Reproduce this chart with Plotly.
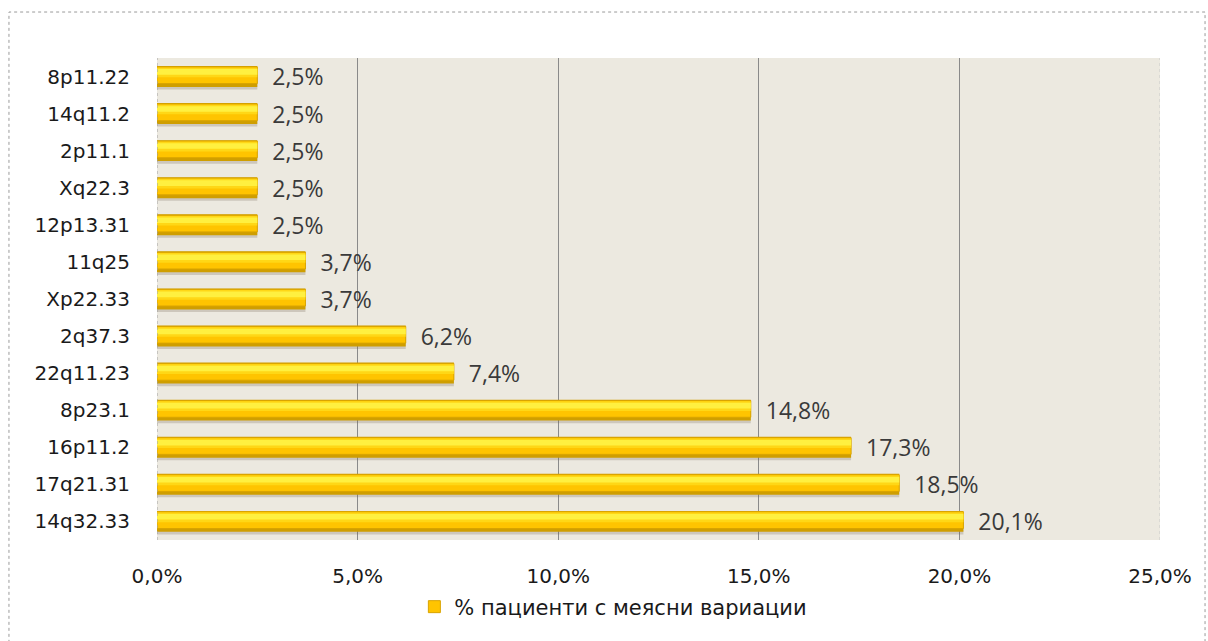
import plotly.graph_objects as go

# Regions listed from the bottom of the chart to the top
regions = ["14q32.33", "17q21.31", "16p11.2", "8p23.1", "22q11.23", "2q37.3",
           "Xp22.33", "11q25", "12p13.31", "Xq22.3", "2p11.1", "14q11.2", "8p11.22"]
percent = [20.1, 18.5, 17.3, 14.8, 7.4, 6.2, 3.7, 3.7, 2.5, 2.5, 2.5, 2.5, 2.5]
series_name = "% пациенти с меясни вариации"
x_ticks = [0, 5, 10, 15, 20, 25]
x_tick_text = [f"{v:.1f}%".replace(".", ",") for v in x_ticks]

label_font = dict(family="Open Sans, Liberation Sans, sans-serif", size=23, color="#3a3a3a")
axis_font = dict(family="DejaVu Sans, sans-serif", size=20, color="#1a1a1a")

fig = go.Figure()

# soft drop shadow under each bar
fig.add_trace(go.Bar(
    x=percent, y=regions, orientation="h", offset=-0.35, width=0.58,
    marker=dict(color="rgba(110,100,80,0.25)", line=dict(width=0)),
    showlegend=False, hoverinfo="skip"))

# dark gold base of the bar, carries the value labels
fig.add_trace(go.Bar(
    x=percent, y=regions, orientation="h", offset=-0.28, width=0.565,
    marker=dict(color="#CF9E00", line=dict(width=0)),
    texttemplate="\u00a0\u00a0%{x:.1f}%", textposition="outside",
    constraintext="none", textfont=label_font, cliponaxis=False,
    showlegend=False))

# main gold body
fig.add_trace(go.Bar(
    x=percent, y=regions, orientation="h", offset=-0.19, width=0.45,
    marker=dict(color="#FFC400", line=dict(width=1, color="#D9A400")),
    name=series_name, showlegend=True))

# lighter gold transition above the body
fig.add_trace(go.Bar(
    x=percent, y=regions, orientation="h", offset=-0.02, width=0.26,
    marker=dict(color="#FFD716", line=dict(width=0)),
    showlegend=False, hoverinfo="skip"))

# bright highlight band near the top edge
fig.add_trace(go.Bar(
    x=percent, y=regions, orientation="h", offset=0.05, width=0.15,
    marker=dict(color="#FFF040", line=dict(width=0)),
    showlegend=False, hoverinfo="skip"))

# frame around the whole chart and plot area edges
fig.add_shape(type="rect", xref="paper", yref="paper",
              x0=-0.1476, x1=1.0449, y0=-0.22, y1=1.0954,
              line=dict(color="#9a9a9a", width=1, dash="dot"), layer="below")
fig.add_shape(type="line", xref="x", yref="paper", x0=0, x1=0, y0=0, y1=1,
              line=dict(color="#a0a0a0", width=1, dash="dot"))
fig.add_shape(type="line", xref="x", yref="paper", x0=25, x1=25, y0=0, y1=1,
              line=dict(color="#c8c8c8", width=1, dash="dot"))

fig.update_layout(
    width=1208, height=641,
    margin=dict(l=157, r=48, t=58, b=101),
    paper_bgcolor="white",
    plot_bgcolor="#ECE9E0",
    barmode="overlay",
    separators=",.",
    showlegend=True,
    legend=dict(orientation="h", x=0.455, xanchor="center", y=-0.139, yanchor="middle",
                font=dict(family="DejaVu Sans, sans-serif", size=21, color="#1a1a1a"),
                bgcolor="rgba(0,0,0,0)"),
    xaxis=dict(range=[0, 25], tickvals=x_ticks, ticktext=x_tick_text,
               showgrid=True, gridcolor="#8a8a8a", gridwidth=1, zeroline=False,
               showline=False, ticks="", ticklabelstandoff=22, tickfont=axis_font),
    yaxis=dict(categoryorder="array", categoryarray=regions, showgrid=False,
               zeroline=False, showline=False, ticks="", ticklabelstandoff=26,
               tickfont=axis_font),
)

fig.write_html("out.html")
